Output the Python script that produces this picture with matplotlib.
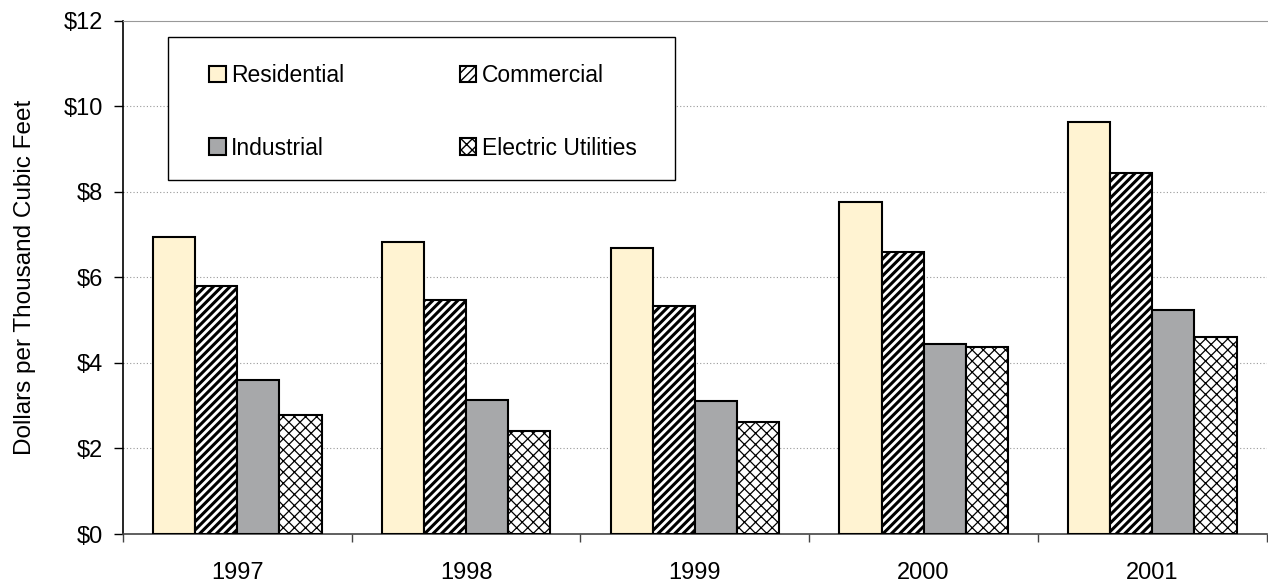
import matplotlib.pyplot as plt
from matplotlib.patches import Rectangle
import numpy as np

years = ["1997", "1998", "1999", "2000", "2001"]
residential = [6.94, 6.82, 6.69, 7.76, 9.63]
commercial = [5.80, 5.48, 5.33, 6.59, 8.43]
industrial = [3.59, 3.14, 3.12, 4.45, 5.24]
electric = [2.78, 2.40, 2.62, 4.38, 4.61]
y_ticks = [0, 2, 4, 6, 8, 10, 12]

plt.rcParams['font.family'] = ['Liberation Sans', 'DejaVu Sans']

fig = plt.figure(figsize=(12.68, 5.84), dpi=100)
ax = fig.add_axes([0.097, 0.0856, 0.902, 0.879])

x = np.arange(len(years))
w = 0.184

# bars
b1 = ax.bar(x - 1.5 * w, residential, w, color="#FFF3D2", edgecolor="black", linewidth=1.5,
            label="Residential", zorder=3)
b2 = ax.bar(x - 0.5 * w, commercial, w, color="white", edgecolor="black", linewidth=1.5,
            hatch="////", label="Commercial", zorder=3)
b3 = ax.bar(x + 0.5 * w, industrial, w, color="#A7A8AA", edgecolor="black", linewidth=1.5,
            label="Industrial", zorder=3)
b4 = ax.bar(x + 1.5 * w, electric, w, color="white", edgecolor="black", linewidth=1.5,
            hatch="xxx", label="Electric Utilities", zorder=3)
for p in b2:
    p.set_hatch_linewidth(2.2)
for p in b4:
    p.set_hatch_linewidth(0.9)

ax.set_xlim(-0.5, len(years) - 0.5)
ax.set_ylim(0, 12)
ax.set_yticks(y_ticks)
ax.set_yticklabels(["$" + str(v) for v in y_ticks], fontsize=17)
ax.set_xticks(x)
ax.set_xticklabels(years, fontsize=17)
ax.tick_params(axis="x", length=0, pad=20)
ax.set_xticks(np.arange(-0.5, len(years), 1.0), minor=True)
ax.tick_params(axis="x", which="minor", length=6, width=1, direction="out", color="#444444")
ax.tick_params(axis="y", length=6.5, width=1, direction="out", pad=8)
ax.set_ylabel("Dollars per Thousand Cubic Feet", fontsize=17.5, labelpad=20)

for v in y_ticks[1:-1]:
    ax.axhline(v, color="#999999", linestyle=(0, (1, 2)), linewidth=0.8, zorder=1)

ax.spines["right"].set_visible(False)
ax.spines["top"].set_color("#999999")
ax.spines["left"].set_linewidth(1.2)
ax.spines["bottom"].set_linewidth(1.2)
ax.spines["bottom"].set_color("#444444")

# legend box drawn separately so the padding matches
box = Rectangle((0.0393, 0.690), 0.4432, 0.278, transform=ax.transAxes, facecolor="white",
                edgecolor="black", linewidth=1.0, zorder=4)
ax.add_patch(box)
leg = ax.legend([b1, b3, b2, b4], ["Residential", "Industrial", "Commercial", "Electric Utilities"],
                ncol=2, loc="upper left", bbox_to_anchor=(0.0752, 0.915, 0.374, 0.0),
                mode="expand", fontsize=16.5, frameon=False,
                handlelength=0.72, handleheight=0.72, handletextpad=0.25, labelspacing=2.15,
                borderpad=0, borderaxespad=0)
leg.set_zorder(5)

fig.savefig("out.png", dpi=100)
